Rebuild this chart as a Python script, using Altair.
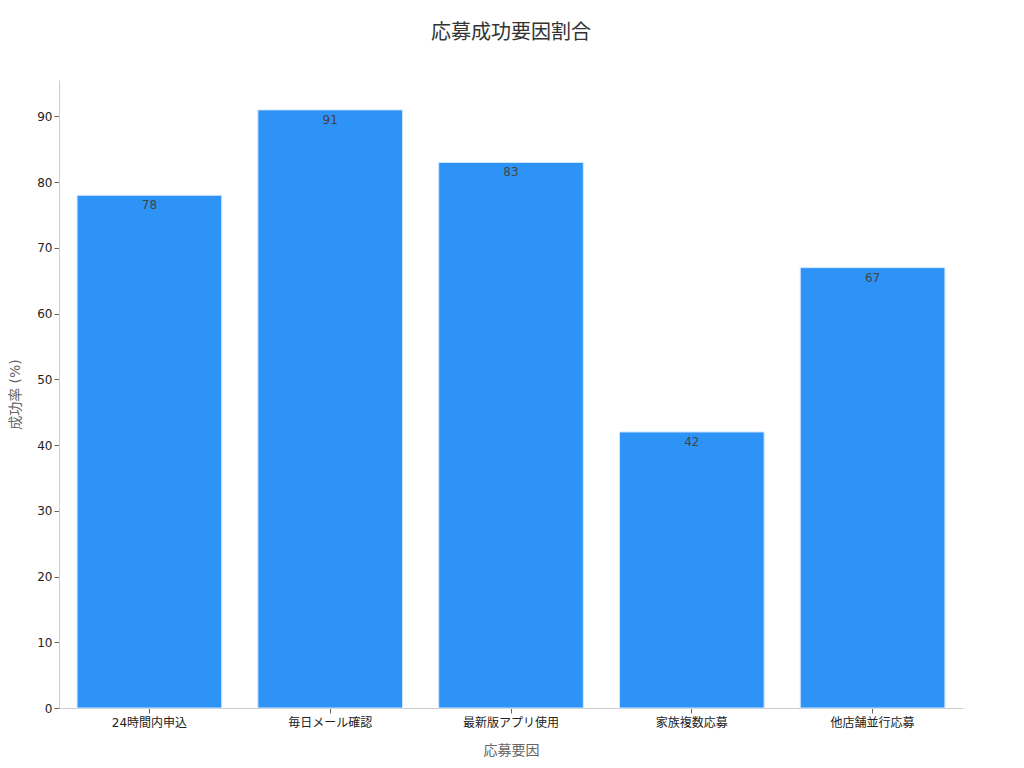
import altair as alt
import pandas as pd

categories = ["24時間内申込", "毎日メール確認", "最新版アプリ使用", "家族複数応募", "他店舗並行応募"]
values = [78, 91, 83, 42, 67]

df = pd.DataFrame({"cat": categories, "val": values})
FONT = "DejaVu Sans, Noto Sans CJK JP, sans-serif"

base = alt.Chart(df).encode(
    x=alt.X("cat:N", sort=categories, title="応募要因",
            scale=alt.Scale(paddingInner=0.2, paddingOuter=0.1),
            axis=alt.Axis(labelAngle=0, labelFontSize=12, labelColor="#222",
                          titleFontSize=14, titleColor="#666", titleFontWeight="normal",
                          titlePadding=15, domainColor="#ccc", tickColor="#666",
                          labelPadding=4)),
    y=alt.Y("val:Q", title="成功率 (%)",
            scale=alt.Scale(domain=[0, 95.55], nice=False),
            axis=alt.Axis(values=list(range(0, 100, 10)), grid=False, labelFontSize=12,
                          labelColor="#222", titleFontSize=14, titleColor="#666",
                          titleFontWeight="normal", titlePadding=14,
                          domainColor="#ccc", tickColor="#666")),
)

bars = base.mark_bar(color="#2E93F7", stroke="#cfe6ff", strokeWidth=1)
labels = base.mark_text(baseline="top", dy=5, fontSize=12, color="#444", font=FONT).encode(
    text="val:Q")

chart = (bars + labels).properties(
    width=904, height=628,
    padding={"left": 0, "top": 15, "right": 5, "bottom": 5},
    title=alt.TitleParams("応募成功要因割合", fontSize=20, color="#333",
                          fontWeight="normal", offset=37, font=FONT),
).configure(font=FONT).configure_view(stroke=None).configure_axis(
    labelFont=FONT, titleFont=FONT)

chart.save("out.html", embed_options={"renderer": "svg", "actions": False})
